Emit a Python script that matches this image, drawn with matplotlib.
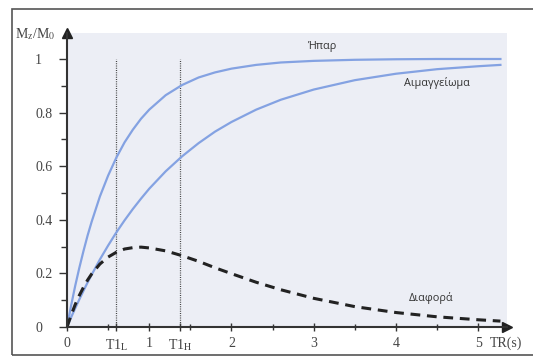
import matplotlib
matplotlib.use("Agg")
from matplotlib import pyplot as plt
from matplotlib.patches import Rectangle

# τιμές διαβασμένες από το σχήμα (TR σε s)
tr = [0, 0.05, 0.1, 0.15, 0.2, 0.25, 0.3, 0.4, 0.5, 0.6, 0.7, 0.8, 0.9, 1.0,
      1.2, 1.4, 1.6, 1.8, 2.0, 2.3, 2.6, 3.0, 3.5, 4.0, 4.5, 5.0, 5.27]
hpar = [0, 0.080, 0.154, 0.221, 0.283, 0.341, 0.393, 0.487, 0.565, 0.632,
        0.689, 0.736, 0.777, 0.811, 0.865, 0.903, 0.931, 0.950, 0.964,
        0.978, 0.987, 0.993, 0.997, 0.999, 1.0, 1.0, 1.0]
aimaggeioma = [0, 0.036, 0.070, 0.103, 0.135, 0.166, 0.195, 0.252, 0.304,
               0.353, 0.398, 0.440, 0.479, 0.516, 0.581, 0.637, 0.686, 0.729,
               0.765, 0.811, 0.848, 0.886, 0.921, 0.945, 0.962, 0.973, 0.978]
diafora = [0, 0.044, 0.084, 0.118, 0.148, 0.175, 0.198, 0.235, 0.261, 0.279,
           0.291, 0.296, 0.298, 0.295, 0.284, 0.266, 0.245, 0.221, 0.199,
           0.167, 0.139, 0.107, 0.076, 0.054, 0.038, 0.027, 0.022]

t1 = [0.6, 1.38]
xticks = [0, 0.6, 1, 1.38, 2, 3, 4, 5]
xticklabels = ["0", "T1$_{\\rm L}$", "1", "T1$_{\\rm H}$", "2", "3", "4", "5"]
yticks = [0, 0.2, 0.4, 0.6, 0.8, 1]
yticklabels = ["0", "0.2", "0.4", "0.6", "0.8", "1"]

plt.rcParams["mathtext.fontset"] = "stix"
serif = "Liberation Serif"
sans = "Open Sans"
blue = "#84a2e2"

fig = plt.figure(figsize=(5.33, 3.61), dpi=100)
fig.patch.set_facecolor("white")

# πλαίσιο της σελίδας
fig.patches.append(Rectangle((12 / 533, 6 / 361), 1.2, 346 / 361,
                             transform=fig.transFigure, fill=False,
                             edgecolor="#555555", lw=1.2))

ax = fig.add_axes([67 / 533, 34 / 361, 440 / 533, 294 / 361])
ax.set_facecolor("#eceef5")
ax.set_xlim(0, 5.35)
ax.set_ylim(0, 1.097)

for x in t1:
    ax.plot([x, x], [0, 1.0], color="#444444", lw=0.9, ls=(0, (0.8, 1.0)))

ax.plot(tr, hpar, color=blue, lw=1.6)
ax.plot(tr, aimaggeioma, color=blue, lw=1.6)
ax.plot(tr, diafora, color="#222222", lw=2.2, dashes=(3.2, 2.2))

ax.text(3.10, 1.045, "Ήπαρ", fontsize=7.8, family=sans, color="#333333",
        ha="center", va="center")
ax.text(4.50, 0.91, "Αιμαγγείωμα", fontsize=7.8, family=sans, color="#333333",
        ha="center", va="center")
ax.text(4.43, 0.108, "Διαφορά", fontsize=7.8, family=sans, color="#333333",
        ha="center", va="center")

for s in ["top", "right"]:
    ax.spines[s].set_visible(False)
for s in ["left", "bottom"]:
    ax.spines[s].set_color("#333333")
    ax.spines[s].set_linewidth(1.5)

# βέλη στους άξονες
ax.plot(0, 1.097, marker="^", color="#222222", markersize=7, clip_on=False)
ax.plot(5.35, 0, marker=">", color="#222222", markersize=7, clip_on=False)

ax.set_xticks(xticks)
ax.set_xticklabels(xticklabels, fontsize=10, family=serif, color="#444444")
ax.set_xticks([0.5, 1.5, 2.5, 3.5, 4.5], minor=True)
ax.set_yticks(yticks)
ax.set_yticklabels(yticklabels, fontsize=10, family=serif, color="#444444",
                   ha="left")
ax.set_yticks([0.1, 0.3, 0.5, 0.7, 0.9], minor=True)
ax.tick_params(axis="x", which="both", direction="inout", length=6,
               width=1, color="#333333", pad=4)
ax.tick_params(axis="x", which="minor", length=4)
ax.tick_params(axis="y", which="major", direction="out", length=6,
               width=1, color="#333333", pad=17)
ax.tick_params(axis="y", which="minor", direction="out", length=4,
               width=1, color="#333333")

fig.text(15 / 533, 1 - 34 / 361, "M$_{\\rm z}$/M$_0$", fontsize=10,
         family=serif, color="#444444", va="center", ha="left")
fig.text(490 / 533, 1 - 343 / 361, "TR(s)", fontsize=10, family=serif,
         color="#444444", va="center", ha="left")

fig.savefig("out.png", dpi=100)
